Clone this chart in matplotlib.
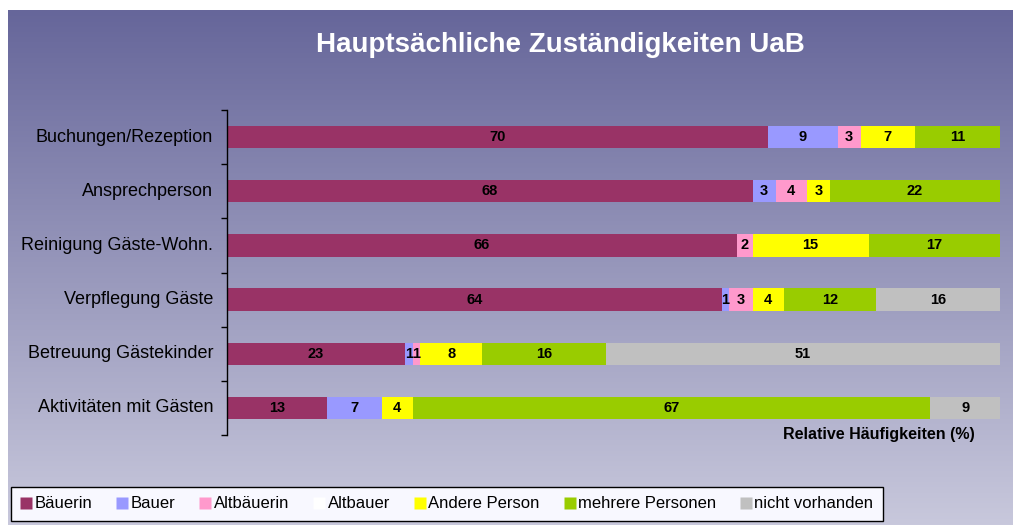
import numpy as np
import matplotlib.pyplot as plt
from matplotlib.lines import Line2D
from matplotlib import font_manager

# ---------------------------------------------------------------------------
# Data (relative frequencies in %)
# ---------------------------------------------------------------------------
categories = [
    "Buchungen/Rezeption",
    "Ansprechperson",
    "Reinigung Gäste-Wohn.",
    "Verpflegung Gäste",
    "Betreuung Gästekinder",
    "Aktivitäten mit Gästen",
]
series_names = ["Bäuerin", "Bauer", "Altbäuerin", "Altbauer",
                "Andere Person", "mehrere Personen", "nicht vorhanden"]
baeuerin = [70, 68, 66, 64, 23, 13]
bauer = [9, 3, 0, 1, 1, 7]
altbaeuerin = [3, 4, 2, 3, 1, 0]
altbauer = [0, 0, 0, 0, 0, 0]
andere = [7, 3, 15, 4, 8, 4]
mehrere = [11, 22, 17, 12, 16, 67]
nicht_vorhanden = [0, 0, 0, 16, 51, 9]

series = [baeuerin, bauer, altbaeuerin, altbauer, andere, mehrere, nicht_vorhanden]
colors = ["#993366", "#9999FF", "#FF99CC", "#FFFFFF",
          "#FFFF00", "#99CC00", "#C0C0C0"]

# narrow-ish font (Arial look-alike)
installed = {f.name for f in font_manager.fontManager.ttflist}
if "Liberation Sans Narrow" in installed:
    FONT = "Liberation Sans Narrow"
elif "Liberation Sans" in installed:
    FONT = "Liberation Sans"
else:
    FONT = "DejaVu Sans"
plt.rcParams["font.family"] = [FONT, "DejaVu Sans"]

W, H = 1013, 525
fig = plt.figure(figsize=(W / 100, H / 100), dpi=100)
fig.patch.set_facecolor("white")

# ── gradient background ─────────────────────────────────────────────────────
bg = fig.add_axes([8 / W, 0, 1 - 8 / W, 1 - 10 / H], zorder=0)
top = np.array([102, 102, 154]) / 255
bottom = np.array([200, 200, 220]) / 255
t = np.linspace(0, 1, 256)[:, None]
grad = top[None, :] * (1 - t) + bottom[None, :] * t
bg.imshow(grad[:, None, :], aspect="auto", extent=[0, 1, 0, 1])
bg.axis("off")

fig.text(560 / W, 1 - 45 / H, "Hauptsächliche Zuständigkeiten UaB",
         ha="center", va="center", color="white", fontsize=20, weight="bold")

# ── bars ────────────────────────────────────────────────────────────────────
ax = fig.add_axes([227 / W, 1 - 435 / H, (1000 - 227) / W, (435 - 110) / H], zorder=1)
ax.patch.set_alpha(0)
y = np.arange(len(categories))
left = np.zeros(len(categories))
for vals, col in zip(series, colors):
    vals = np.array(vals, dtype=float)
    ax.barh(y, vals, left=left, height=0.41, color=col, edgecolor="none")
    for yi, (l, v) in enumerate(zip(left, vals)):
        if v > 0:
            ax.text(l + v / 2, yi, f"{int(v)}", ha="center", va="center",
                    fontsize=10.5, weight="bold", color="black")
    left += vals

ax.set_xlim(0, 100)
ax.set_ylim(len(categories) - 0.5, -0.5)
for s in ["top", "right", "bottom"]:
    ax.spines[s].set_visible(False)
ax.spines["left"].set_linewidth(1.0)
ax.set_xticks([])
ax.set_yticks(np.arange(len(categories) + 1) - 0.5)
ax.set_yticklabels([])
ax.tick_params(axis="y", length=4, width=1, direction="out")
for yi, name in enumerate(categories):
    ax.text(-1.8, yi, name, ha="right", va="center", fontsize=13)

fig.text(975 / W, 1 - 435 / H, "Relative Häufigkeiten (%)",
         ha="right", va="center", fontsize=11.5, weight="bold")

# ── legend ──────────────────────────────────────────────────────────────────
handles = [Line2D([], [], marker="s", linestyle="none", markersize=8,
                  markerfacecolor=c, markeredgecolor="none") for c in colors]
leg = fig.legend(handles, series_names, ncol=7, loc="lower left",
                 bbox_to_anchor=(8 / W, 1 / H), frameon=True, fancybox=False,
                 fontsize=12, handlelength=0.7, handletextpad=0.15,
                 columnspacing=1.45, borderpad=0.55, borderaxespad=0.2)
leg.get_frame().set_facecolor("#F8F8FF")
leg.get_frame().set_edgecolor("black")
leg.get_frame().set_alpha(1)

fig.savefig("out.png", dpi=100, facecolor="white")
